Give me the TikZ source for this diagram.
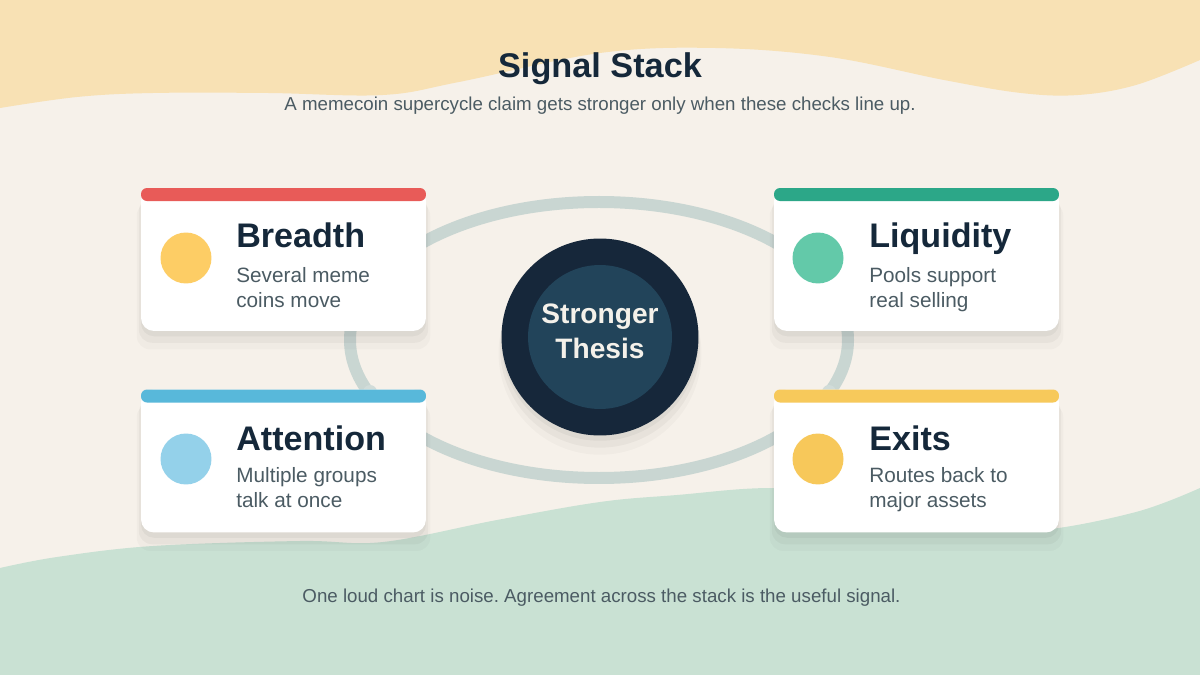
\documentclass[tikz,border=0pt]{standalone}
\usepackage{fontspec}
\setmainfont{Liberation Sans}
\usepackage{xcolor}
\usetikzlibrary{
	positioning,
	shadows
}
\frenchspacing
\definecolor{paper}{HTML}{F6F1EA}
\definecolor{wave_sand}{HTML}{F8E1B4}
\definecolor{wave_mint}{HTML}{C9E1D3}
\definecolor{ring_grey}{HTML}{C9D6D2}
\definecolor{ink}{HTML}{15283A}
\definecolor{slate}{HTML}{4B5B63}
\definecolor{core_dark}{HTML}{16273A}
\definecolor{core_mid}{HTML}{22445A}
\definecolor{core_text}{HTML}{F4F1EA}
\definecolor{bar_red}{HTML}{E85B58}
\definecolor{bar_green}{HTML}{2CA788}
\definecolor{bar_blue}{HTML}{58B8DA}
\definecolor{bar_yellow}{HTML}{F7C95B}
\definecolor{dot_yellow}{HTML}{FDCD65}
\definecolor{dot_green}{HTML}{63C9A9}
\definecolor{dot_blue}{HTML}{94D1EA}
\definecolor{dot_gold}{HTML}{F7C85A}

\begin{document}
\begin{tikzpicture}[
    x=0.02cm, y=-0.02cm,
    soft_shadow/.style={
        drop shadow={opacity=0.025, shadow xshift=0pt, shadow yshift=-9pt, shadow scale=1.03, fill=black},
        drop shadow={opacity=0.035, shadow xshift=0pt, shadow yshift=-6pt, shadow scale=1.015, fill=black},
        drop shadow={opacity=0.04, shadow xshift=0pt, shadow yshift=-3pt, fill=black}
    },
    card_box/.style={
        rectangle,
        rounded corners=0.26cm,
        fill=white,
        minimum width=5.7cm,
        minimum height=2.86cm,
        inner sep=0pt,
        soft_shadow
    },
    top_bar/.style={
        rectangle,
        rounded corners=0.12cm,
        minimum width=5.7cm,
        minimum height=0.26cm,
        inner sep=0pt,
        anchor=north
    },
    icon_dot/.style={
        circle,
        minimum size=1.02cm,
        inner sep=0pt
    },
    card_title/.style={
        anchor=base west,
        inner sep=0pt,
        font=\fontsize{19.4}{22}\selectfont\bfseries,
        text=ink
    },
    card_text/.style={
        anchor=north west,
        inner sep=0pt,
        align=left,
        font=\fontsize{11.8}{14.2}\selectfont,
        text=slate
    },
    ring_line/.style={
        draw=ring_grey,
        line width=0.24cm
    },
    ring_dot/.style={
        circle,
        fill=ring_grey!85!white,
        minimum size=0.28cm,
        inner sep=0pt
    },
    note_text/.style={
        anchor=base,
        inner sep=0pt,
        font=\fontsize{10.65}{12}\selectfont,
        text=slate
    }
]

    % ====== background and waves ======
    \useasboundingbox (0,0) rectangle (1200,675);
    \fill[paper] (0,0) rectangle (1200,675);
    \fill[wave_sand] (0,0) -- plot[smooth, tension=0.6] coordinates {(0,108) (77,97) (153,93) (268,93) (383,95) (459,82) (600,53) (715,48) (830,57) (944,80) (1021,93) (1078,95) (1136,85) (1200,60)} -- (1200,0) -- cycle;
    \fill[wave_mint] (0,675) -- plot[smooth, tension=0.6] coordinates {(0,568) (57,557) (153,546) (300,541) (383,542) (497,520) (600,502) (677,495) (772,488) (880,495) (980,522) (1040,530) (1136,512) (1200,488)} -- (1200,675) -- cycle;

    % ====== title ======
    \node[anchor=base, inner sep=0pt, font=\fontsize{19.5}{22}\selectfont\bfseries, text=ink] (title) at (600,78) {Signal Stack};
    \node[note_text] (subtitle) at (600,111) {A memecoin supercycle claim gets stronger only when these checks line up.};

    % ring behind the cards
    \draw[ring_line] (599,340) ellipse [x radius=249, y radius=138];
    \node[ring_dot] (ring_dot_left) at (370,392) {};
    \node[ring_dot] (ring_dot_right) at (829,392) {};

    % ====== cards ======
    % Breadth
    \node[card_box] (breadth) at (283.5,259.5) {};
    \node[top_bar, fill=bar_red] (breadth_bar) at (breadth.north) {};
    \node[icon_dot, fill=dot_yellow] (breadth_dot) at (186,258) {};
    \node[card_title] (breadth_title) at (236,248) {Breadth};
    \node[card_text] (breadth_text) at (236,267) {Several meme\\coins move};

    % Liquidity
    \node[card_box] (liquidity) at (916.5,259.5) {};
    \node[top_bar, fill=bar_green] (liquidity_bar) at (liquidity.north) {};
    \node[icon_dot, fill=dot_green] (liquidity_dot) at (818,258) {};
    \node[card_title] (liquidity_title) at (869,248) {Liquidity};
    \node[card_text] (liquidity_text) at (869,267) {Pools support\\real selling};

    % Attention
    \node[card_box] (attention) at (283.5,461) {};
    \node[top_bar, fill=bar_blue] (attention_bar) at (attention.north) {};
    \node[icon_dot, fill=dot_blue] (attention_dot) at (186,459) {};
    \node[card_title] (attention_title) at (236,450) {Attention};
    \node[card_text] (attention_text) at (236,467) {Multiple groups\\talk at once};

    % Exits
    \node[card_box] (exits) at (916.5,461) {};
    \node[top_bar, fill=bar_yellow] (exits_bar) at (exits.north) {};
    \node[icon_dot, fill=dot_gold] (exits_dot) at (818,459) {};
    \node[card_title] (exits_title) at (869,450) {Exits};
    \node[card_text] (exits_text) at (869,467) {Routes back to\\major assets};

    % ====== centre ======
    \node[circle, fill=core_dark, minimum size=3.94cm, inner sep=0pt, soft_shadow] (thesis_outer) at (600,337) {};
    \node[circle, fill=core_mid, minimum size=2.88cm, inner sep=0pt] (thesis_inner) at (thesis_outer) {};
    \node[anchor=north, inner sep=0pt, align=center, font=\fontsize{16}{19.9}\selectfont\bfseries, text=core_text] (thesis_label) at (600,304) {Stronger\\Thesis};

    % footer
    \node[note_text] (footer) at (601.5,602) {One loud chart is noise. Agreement across the stack is the useful signal.};

\end{tikzpicture}
\end{document}
